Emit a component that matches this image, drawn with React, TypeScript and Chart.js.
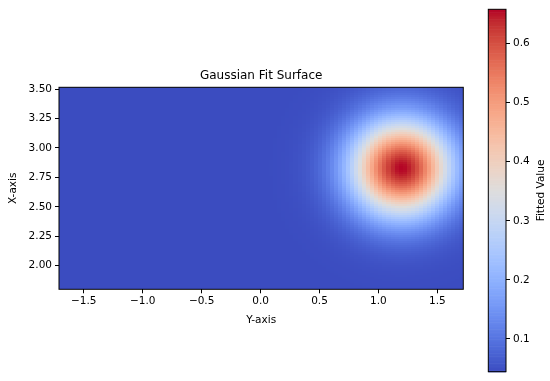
import React, { useEffect, useRef } from "react";
import { Chart, registerables } from "chart.js";

Chart.register(...registerables);

// ---- Data ----
const X_RANGE = [-1.71, 1.72]; // horizontal extent ("Y-axis")
const Y_RANGE = [1.8, 3.515]; // vertical extent ("X-axis")
const GRID_COLS = 100;
const GRID_ROWS = 100;
// fitted Gaussian parameters
const FIT_AMPLITUDE = 0.6135;
const FIT_OFFSET = 0.0445;
const FIT_CENTER = [1.195, 2.828]; // [horizontal, vertical]
const FIT_SIGMA = [0.3, 0.285]; // [horizontal, vertical]
const X_TICKS = [-1.5, -1.0, -0.5, 0.0, 0.5, 1.0, 1.5];
const Y_TICKS = [2.0, 2.25, 2.5, 2.75, 3.0, 3.25, 3.5];
const CB_RANGE = [0.0445, 0.658];
const CB_TICKS = [0.1, 0.2, 0.3, 0.4, 0.5, 0.6];
const TITLE = "Gaussian Fit Surface";
const X_LABEL = "Y-axis";
const Y_LABEL = "X-axis";
const CB_LABEL = "Fitted Value";

// coolwarm colour map stops
const COOLWARM: number[][] = [
  [59, 76, 192], [68, 90, 204], [77, 104, 215], [87, 117, 225], [98, 130, 234],
  [108, 142, 241], [119, 154, 247], [130, 165, 251], [141, 176, 254], [152, 185, 255],
  [163, 194, 255], [174, 201, 253], [184, 208, 249], [194, 213, 244], [204, 217, 238],
  [213, 219, 230], [221, 221, 221], [229, 216, 209], [236, 211, 197], [241, 204, 185],
  [245, 196, 173], [247, 187, 160], [247, 177, 148], [247, 166, 135], [244, 154, 123],
  [241, 141, 111], [236, 127, 99], [229, 112, 88], [222, 96, 77], [213, 80, 66],
  [203, 62, 56], [192, 40, 47], [180, 4, 38],
];

function colorFor(v: number): string {
  let t = (v - CB_RANGE[0]) / (CB_RANGE[1] - CB_RANGE[0]);
  t = Math.max(0, Math.min(1, t));
  const p = t * (COOLWARM.length - 1);
  const i = Math.min(COOLWARM.length - 2, Math.floor(p));
  const f = p - i;
  const a = COOLWARM[i], b = COOLWARM[i + 1];
  const c = a.map((x, k) => Math.round(x + (b[k] - x) * f));
  return `rgb(${c[0]},${c[1]},${c[2]})`;
}

function fitValue(h: number, v: number): number {
  const dh = (h - FIT_CENTER[0]) / FIT_SIGMA[0];
  const dv = (v - FIT_CENTER[1]) / FIT_SIGMA[1];
  return FIT_OFFSET + FIT_AMPLITUDE * Math.exp(-0.5 * (dh * dh + dv * dv));
}

const FONT = "'DejaVu Sans', sans-serif";

function fmt(v: number, d: number) {
  return v.toFixed(d).replace("-", "\u2212");
}

export default function App() {
  const mainRef = useRef<HTMLCanvasElement | null>(null);
  const cbRef = useRef<HTMLCanvasElement | null>(null);

  useEffect(() => {
    if (!mainRef.current || !cbRef.current) return;

    const heatmapPlugin = {
      id: "heatmap",
      beforeDatasetsDraw(chart: any) {
        const { ctx, chartArea, scales } = chart;
        const xs = scales.x, ys = scales.y;
        const cw = (X_RANGE[1] - X_RANGE[0]) / GRID_COLS;
        const rh = (Y_RANGE[1] - Y_RANGE[0]) / GRID_ROWS;
        ctx.save();
        ctx.beginPath();
        ctx.rect(chartArea.left, chartArea.top, chartArea.right - chartArea.left, chartArea.bottom - chartArea.top);
        ctx.clip();
        for (let r = 0; r < GRID_ROWS; r++) {
          const v0 = Y_RANGE[0] + r * rh;
          const yA = Math.round(ys.getPixelForValue(v0));
          const yB = Math.round(ys.getPixelForValue(v0 + rh));
          if (yA === yB) continue;
          for (let c = 0; c < GRID_COLS; c++) {
            const h0 = X_RANGE[0] + c * cw;
            const xA = Math.round(xs.getPixelForValue(h0));
            const xB = Math.round(xs.getPixelForValue(h0 + cw));
            if (xA === xB) continue;
            ctx.fillStyle = colorFor(fitValue(h0 + cw / 2, v0 + rh / 2));
            ctx.fillRect(xA, yB, xB - xA, yA - yB);
          }
        }
        ctx.restore();
      },
      afterDraw(chart: any) {
        const { ctx, chartArea } = chart;
        ctx.save();
        ctx.strokeStyle = "#000";
        ctx.lineWidth = 1;
        ctx.strokeRect(chartArea.left, chartArea.top, chartArea.right - chartArea.left, chartArea.bottom - chartArea.top);
        const cx = (chartArea.left + chartArea.right) / 2;
        const cy = (chartArea.top + chartArea.bottom) / 2;
        ctx.fillStyle = "#000";
        ctx.textAlign = "center";
        ctx.textBaseline = "middle";
        ctx.font = `12px ${FONT}`;
        ctx.fillText(TITLE, cx, 76);
        ctx.font = `10.5px ${FONT}`;
        ctx.fillText(X_LABEL, cx, 320);
        ctx.translate(13, cy);
        ctx.rotate(-Math.PI / 2);
        ctx.fillText(Y_LABEL, 0, 0);
        ctx.restore();
      },
    };

    const tickFont = { family: FONT, size: 10.5 };

    const main = new Chart(mainRef.current, {
      type: "scatter",
      data: { datasets: [{ data: [], pointRadius: 0 }] },
      plugins: [heatmapPlugin],
      options: {
        animation: false,
        responsive: false,
        events: [],
        layout: { padding: { left: 0, top: 87.3, right: 86.7, bottom: 41.7 } },
        plugins: { legend: { display: false }, tooltip: { enabled: false }, title: { display: false } },
        scales: {
          x: {
            type: "linear",
            min: X_RANGE[0],
            max: X_RANGE[1],
            afterBuildTicks: (s: any) => { s.ticks = X_TICKS.map((value) => ({ value })); },
            afterFit: (s: any) => { s.height = 50; },
            ticks: { font: tickFont, color: "#000", maxRotation: 0, autoSkip: false, padding: 2, callback: (v: any) => fmt(Number(v), 1) },
            grid: { display: true, drawOnChartArea: false, drawTicks: true, tickLength: 4, tickColor: "#000", tickWidth: 1 },
            border: { display: false },
          },
          y: {
            type: "linear",
            min: Y_RANGE[0],
            max: Y_RANGE[1],
            afterBuildTicks: (s: any) => { s.ticks = Y_TICKS.map((value) => ({ value })); },
            afterFit: (s: any) => { s.width = 59; },
            ticks: { font: tickFont, color: "#000", autoSkip: false, padding: 3, callback: (v: any) => fmt(Number(v), 2) },
            grid: { display: true, drawOnChartArea: false, drawTicks: true, tickLength: 4, tickColor: "#000", tickWidth: 1 },
            border: { display: false },
          },
        },
      },
    } as any);

    const colorbarPlugin = {
      id: "colorbar",
      beforeDatasetsDraw(chart: any) {
        const { ctx, chartArea, scales } = chart;
        const ys = scales.y;
        const steps = 256;
        ctx.save();
        for (let i = 0; i < steps; i++) {
          const a = CB_RANGE[0] + ((CB_RANGE[1] - CB_RANGE[0]) * i) / steps;
          const b = CB_RANGE[0] + ((CB_RANGE[1] - CB_RANGE[0]) * (i + 1)) / steps;
          const yA = ys.getPixelForValue(a);
          const yB = ys.getPixelForValue(b);
          ctx.fillStyle = colorFor((a + b) / 2);
          ctx.fillRect(chartArea.left, yB, chartArea.right - chartArea.left, yA - yB + 0.6);
        }
        ctx.restore();
      },
      afterDraw(chart: any) {
        const { ctx, chartArea } = chart;
        ctx.save();
        ctx.strokeStyle = "#000";
        ctx.lineWidth = 1;
        ctx.strokeRect(chartArea.left, chartArea.top, chartArea.right - chartArea.left, chartArea.bottom - chartArea.top);
        ctx.fillStyle = "#000";
        ctx.font = `10.5px ${FONT}`;
        ctx.textAlign = "center";
        ctx.textBaseline = "middle";
        ctx.translate(541, (chartArea.top + chartArea.bottom) / 2);
        ctx.rotate(-Math.PI / 2);
        ctx.fillText(CB_LABEL, 0, 0);
        ctx.restore();
      },
    };

    const cb = new Chart(cbRef.current, {
      type: "scatter",
      data: { datasets: [{ data: [], pointRadius: 0 }] },
      plugins: [colorbarPlugin],
      options: {
        animation: false,
        responsive: false,
        events: [],
        layout: { padding: { left: 488.3, top: 5, right: 4, bottom: 7.7 } },
        plugins: { legend: { display: false }, tooltip: { enabled: false }, title: { display: false } },
        scales: {
          x: { type: "linear", display: false, min: 0, max: 1 },
          y: {
            type: "linear",
            position: "right",
            min: CB_RANGE[0],
            max: CB_RANGE[1],
            afterBuildTicks: (s: any) => { s.ticks = CB_TICKS.map((value) => ({ value })); },
            afterFit: (s: any) => { s.width = 40; },
            ticks: { font: tickFont, color: "#000", autoSkip: false, padding: 3, callback: (v: any) => fmt(Number(v), 1) },
            grid: { display: true, drawOnChartArea: false, drawTicks: true, tickLength: 4, tickColor: "#000", tickWidth: 1 },
            border: { display: false },
          },
        },
      },
    } as any);

    return () => {
      main.destroy();
      cb.destroy();
    };
  }, []);

  return (
    <div style={{ position: "fixed", left: 0, top: 0, width: 550, height: 381, background: "#fff" }}>
      <canvas ref={mainRef} width={550} height={381} style={{ position: "absolute", left: 0, top: 0 }} />
      <canvas ref={cbRef} width={550} height={381} style={{ position: "absolute", left: 0, top: 0 }} />
    </div>
  );
}
